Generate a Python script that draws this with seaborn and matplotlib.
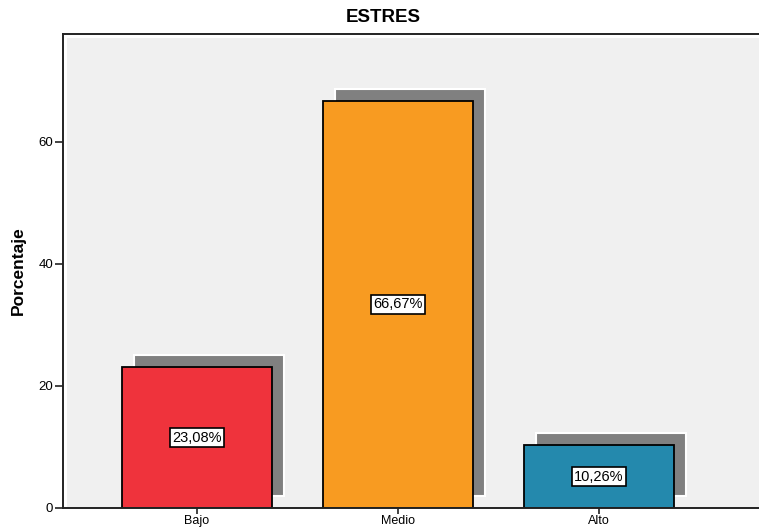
import matplotlib
matplotlib.use("Agg")
import matplotlib.pyplot as plt
from matplotlib.patches import Rectangle
import numpy as np
import seaborn as sns

categories = ["Bajo", "Medio", "Alto"]
percentages = [23.08, 66.67, 10.26]
value_labels = ["23,08%", "66,67%", "10,26%"]
bar_colors = ["#EF333C", "#F89B21", "#2489AD"]
y_ticks = [0, 20, 40, 60]

sns.set_theme(style="white")
plt.rcParams["font.family"] = ["Liberation Sans", "DejaVu Sans"]
plt.rcParams["text.color"] = "black"
plt.rcParams["axes.labelcolor"] = "black"
plt.rcParams["xtick.color"] = "black"
plt.rcParams["ytick.color"] = "black"

fig = plt.figure(figsize=(7.59, 5.29), dpi=100)
ax = fig.add_axes([63 / 759, 1 - 508 / 529, 1 - 63 / 759, (508 - 34) / 529])
ax.set_facecolor("white")

# light grey plotting area, inset from the frame
ax.add_patch(Rectangle((0.006, 0.0), 0.994, 0.992, transform=ax.transAxes,
                       facecolor="#F0F0F0", edgecolor="none", zorder=0))

positions = np.arange(len(categories))
bar_width = 0.75

# drop shadows behind the bars
ax.bar(positions + 0.06, percentages, bottom=1.96, width=bar_width,
       color="#808080", edgecolor="white", linewidth=1.5, zorder=1)

sns.barplot(x=categories, y=percentages, hue=categories, palette=bar_colors,
            width=bar_width, edgecolor="black", linewidth=1.3, legend=False,
            saturation=1, ax=ax, zorder=2)

for pos, val, lab in zip(positions, percentages, value_labels):
    ax.text(pos, val / 2, lab, ha="center", va="center", fontsize=10.5,
            color="black", zorder=4,
            bbox=dict(boxstyle="square,pad=0.15", facecolor="white",
                      edgecolor="black", linewidth=1.2))

ax.set_xlim(-0.667, 2.796)
ax.set_ylim(0, 77.6)
ax.set_yticks(y_ticks)
ax.set_yticklabels([str(t) for t in y_ticks])

for side in ["left", "bottom", "top"]:
    ax.spines[side].set_visible(True)
    ax.spines[side].set_color("#222222")
    ax.spines[side].set_linewidth(1.4)
ax.spines["right"].set_visible(False)

ax.tick_params(axis="y", direction="out", length=6, width=1.2,
               color="#222222", labelcolor="black", labelsize=9.5, pad=1,
               left=True)
ax.tick_params(axis="x", direction="out", length=4.5, width=1.2,
               color="#222222", labelcolor="black", labelsize=9, pad=0.5,
               bottom=True)
ax.set_xlabel("")
ax.set_ylabel("Porcentaje", fontsize=12.5, fontweight="bold", labelpad=9,
              color="black")

fig.text(383 / 759, 1 - 18 / 529, "ESTRES", ha="center", va="center",
         fontsize=13.5, fontweight="bold", color="black")

fig.savefig("out.png", dpi=100)
